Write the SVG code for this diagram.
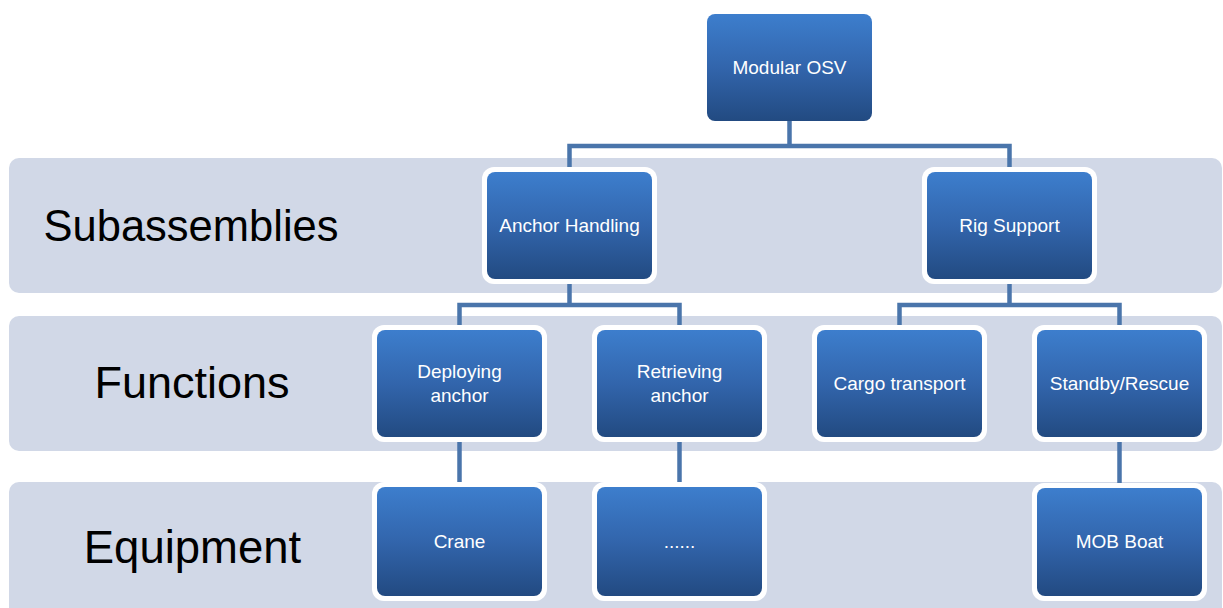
<svg xmlns="http://www.w3.org/2000/svg" width="1223" height="608" viewBox="0 0 1223 608">
  <defs>
    <linearGradient id="boxFill" x1="0" y1="0" x2="0" y2="1">
      <stop offset="0" stop-color="#3D7ECD"/>
      <stop offset="0.5" stop-color="#3265AC"/>
      <stop offset="1" stop-color="#224A81"/>
    </linearGradient>
    <style>
      .band { fill: #D1D8E7; }
      .tier { font-family: "Liberation Sans", Arial, sans-serif; font-size: 45px; fill: #000000; text-anchor: middle; }
      .halo { fill: #FFFFFF; }
      .box { fill: url(#boxFill); }
      .label { font-family: "Liberation Sans", Arial, sans-serif; font-size: 19px; fill: #FFFFFF; text-anchor: middle; }
      .link { fill: none; stroke: #4A75AB; stroke-width: 4.5; stroke-linejoin: miter; stroke-linecap: butt; }
    </style>
  </defs>

  <rect width="1223" height="608" fill="#FFFFFF"/>

  <!-- tier bands -->
  <g id="bands">
    <rect class="band" x="9" y="158" width="1213" height="135" rx="10"/>
    <rect class="band" x="9" y="316" width="1213" height="135" rx="10"/>
    <rect class="band" x="9" y="482" width="1213" height="140" rx="10"/>
    <text class="tier" x="191" y="241" style="font-size:43.5px">Subassemblies</text>
    <text class="tier" x="192" y="398">Functions</text>
    <text class="tier" x="192.5" y="563" style="font-size:45.5px">Equipment</text>
  </g>

  <!-- connectors -->
  <g id="connectors">
    <polyline class="link" points="789.5,121 789.5,146"/>
    <polyline class="link" points="569.5,167 569.5,146 1009.5,146 1009.5,167"/>
    <polyline class="link" points="569.5,284 569.5,305"/>
    <polyline class="link" points="459.5,325 459.5,305 679.5,305 679.5,325"/>
    <polyline class="link" points="1009.5,284 1009.5,305"/>
    <polyline class="link" points="899.5,325 899.5,305 1119.5,305 1119.5,325"/>
    <polyline class="link" points="459.5,442 459.5,482"/>
    <polyline class="link" points="679.5,442 679.5,482"/>
    <polyline class="link" points="1119.5,442 1119.5,483"/>
  </g>

  <!-- nodes -->
  <g id="modular-osv">
    <rect class="box" x="707" y="14" width="165" height="107" rx="8"/>
    <text class="label" x="789.5" y="74">Modular OSV</text>
  </g>

  <g id="anchor-handling">
    <rect class="halo" x="482" y="167" width="175" height="117" rx="12"/>
    <rect class="box" x="487" y="172" width="165" height="107" rx="8"/>
    <text class="label" x="569.5" y="232">Anchor Handling</text>
  </g>

  <g id="rig-support">
    <rect class="halo" x="922" y="167" width="175" height="117" rx="12"/>
    <rect class="box" x="927" y="172" width="165" height="107" rx="8"/>
    <text class="label" x="1009.5" y="232">Rig Support</text>
  </g>

  <g id="deploying-anchor">
    <rect class="halo" x="372" y="325" width="175" height="117" rx="12"/>
    <rect class="box" x="377" y="330" width="165" height="107" rx="8"/>
    <text class="label" x="459.5" y="378">Deploying</text>
    <text class="label" x="459.5" y="402">anchor</text>
  </g>

  <g id="retrieving-anchor">
    <rect class="halo" x="592" y="325" width="175" height="117" rx="12"/>
    <rect class="box" x="597" y="330" width="165" height="107" rx="8"/>
    <text class="label" x="679.5" y="378">Retrieving</text>
    <text class="label" x="679.5" y="402">anchor</text>
  </g>

  <g id="cargo-transport">
    <rect class="halo" x="812" y="325" width="175" height="117" rx="12"/>
    <rect class="box" x="817" y="330" width="165" height="107" rx="8"/>
    <text class="label" x="899.5" y="390">Cargo transport</text>
  </g>

  <g id="standby-rescue">
    <rect class="halo" x="1032" y="325" width="175" height="117" rx="12"/>
    <rect class="box" x="1037" y="330" width="165" height="107" rx="8"/>
    <text class="label" x="1119.5" y="390">Standby/Rescue</text>
  </g>

  <g id="crane">
    <rect class="halo" x="372" y="482" width="175" height="119" rx="12"/>
    <rect class="box" x="377" y="487" width="165" height="109" rx="8"/>
    <text class="label" x="459.5" y="548">Crane</text>
  </g>

  <g id="more-equipment">
    <rect class="halo" x="592" y="482" width="175" height="119" rx="12"/>
    <rect class="box" x="597" y="487" width="165" height="109" rx="8"/>
    <text class="label" x="679.5" y="548">......</text>
  </g>

  <g id="mob-boat">
    <rect class="halo" x="1032" y="483" width="175" height="118" rx="12"/>
    <rect class="box" x="1037" y="488" width="165" height="108" rx="8"/>
    <text class="label" x="1119.5" y="548">MOB Boat</text>
  </g>
</svg>
